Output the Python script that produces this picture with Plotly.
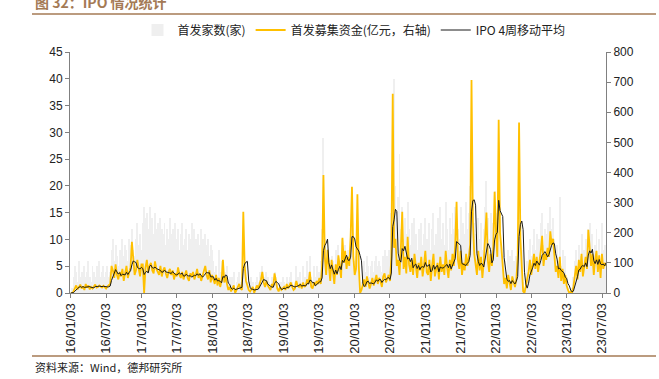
import pandas as pd
import plotly.graph_objects as go

START_WEEK = "2016-01-03"

# 首发募集资金(亿元) – weekly values, by period
funds_16h1 = [0, 0, 5, 18, 25, 12, 20, 28, 15, 22, 10, 30, 18, 25, 12, 20, 15, 22, 28, 18, 20, 25, 22, 18, 24, 20, 15, 22, 25, 30]
funds_16h2 = [90, 75, 50, 95, 60, 45, 70, 55, 80, 40, 65, 90, 50, 70, 85, 170, 100, 60, 75, 110, 80, 55, 95]
funds_17 = [95, 0, 85, 110, 70, 90, 100, 75, 65, 105, 80, 70, 60, 90, 55, 75, 85, 65, 50, 70, 80, 60, 75, 45, 65, 55,
            85, 60, 50, 70, 45, 60, 75, 50, 40, 65, 55, 70, 45, 60, 80, 50, 65, 40, 55, 70, 90, 60, 45, 75, 35, 60]
funds_18h1 = [45, 30, 60, 25, 50, 20, 40, 110, 35, 55, 30, 10, 20, 5, 15, 25, 0, 10, 20, 30, 15, 10, 270, 90, 40, 20]
funds_18h2 = [10, 5, 15, 20, 0, 10, 25, 15, 30, 45, 70, 35, 20, 40, 25, 15, 10, 30, 20, 65, 40, 15, 5, 20, 10, 15]
funds_19h1 = [20, 10, 30, 15, 25, 35, 20, 10, 15, 40, 25, 20, 30, 15, 35, 20, 25, 45, 30, 70, 20, 15, 35, 25, 40, 30]
funds_19h2 = [50, 30, 90, 392, 120, 60, 143, 80, 40, 110, 70, 30, 95, 60, 125, 75, 50, 183, 100, 140, 80, 120, 90, 185]
funds_20h1 = [353, 120, 60, 80, 328, 90, 0, 10, 30, 45, 20, 55, 35, 15, 30, 50, 25, 40, 60, 30, 50, 40, 20, 55, 65,
              35, 45, 60, 40]
funds_20h2 = [120, 661, 150, 180, 90, 110, 60, 150, 270, 80, 120, 65, 187, 95, 70, 110, 60, 130, 85, 50, 100, 75, 120,
              55, 90, 140, 70]
funds_21 = [60, 110, 40, 90, 130, 55, 80, 100, 45, 120, 70, 95, 60, 140, 85, 50, 110, 75, 130, 90, 160,
            303, 110, 80, 140, 60, 100, 75, 130, 90, 120, 160,
            707, 240, 130, 90, 60, 140, 75, 120, 50, 100, 180, 267, 110, 70, 130, 90, 150, 336]
funds_22h1 = [200, 120, 575, 200, 150, 90, 30, 50, 15, 60, 40, 10, 55, 35, 20, 45, 120, 566, 180, 90, 5, 0, 20, 40]
funds_22h2 = [70, 110, 60, 95, 130, 80, 120, 70, 100, 140, 190, 90, 130, 110, 150, 120, 205, 160, 180, 110, 70,
              90, 50, 120, 40, 80, 30, 60, 25, 10, 0, 5, 0, 20]
funds_23 = [60, 90, 45, 110, 70, 130, 55, 95, 120, 80, 210, 150, 90, 130, 60, 110, 140, 70, 125, 50, 130, 80, 100, 90]

# 首发家数(家) – weekly values, by period
count_16h1 = [0, 1, 3, 5, 4, 2, 6, 3, 4, 2, 5, 3, 4, 6, 3, 2, 5, 4, 3, 5, 4, 6, 3, 4, 5, 3, 4, 5, 3, 4]
count_16h2 = [8, 10, 6, 9, 7, 5, 8, 6, 10, 7, 9, 8, 6, 10, 9, 12, 8, 7, 10, 13, 9, 11, 8]
count_17 = [13, 16, 14, 15, 12, 16, 13, 14, 11, 15, 12, 13, 10, 14, 12, 11, 13, 9, 12, 10, 14, 11, 12, 9, 13, 10,
            12, 8, 11, 13, 9, 10, 12, 8, 11, 10, 13, 9, 12, 10, 8, 11, 9, 12, 10, 8, 11, 9, 10, 7, 9, 8]
count_18h1 = [6, 4, 5, 3, 8, 4, 6, 5, 3, 4, 5, 2, 3, 2, 3, 4, 1, 2, 3, 4, 2, 3, 5, 4, 3, 2]
count_18h2 = [2, 1, 3, 2, 1, 2, 3, 2, 4, 3, 5, 3, 2, 4, 3, 2, 1, 3, 2, 4, 3, 2, 1, 2, 2, 3]
count_19h1 = [2, 1, 3, 2, 3, 4, 2, 1, 2, 5, 3, 2, 4, 2, 5, 3, 3, 6, 4, 7, 3, 2, 5, 3, 5, 4]
count_19h2 = [4, 6, 12, 29, 10, 6, 8, 5, 4, 7, 6, 3, 8, 5, 9, 6, 5, 10, 7, 9, 6, 8, 7, 10]
count_20h1 = [12, 8, 6, 7, 11, 7, 1, 2, 5, 6, 4, 7, 5, 3, 5, 6, 4, 6, 7, 5, 6, 5, 4, 7, 8, 6, 7, 8, 6]
count_20h2 = [15, 30, 40, 20, 14, 18, 26, 12, 16, 10, 14, 11, 17, 12, 9, 13, 10, 14, 11, 8, 12, 10, 13, 9, 11, 14, 10]
count_21 = [10, 13, 8, 12, 15, 9, 11, 14, 8, 16, 10, 13, 9, 17, 12, 8, 14, 11, 15, 12, 16,
            14, 12, 10, 16, 9, 13, 11, 17, 12, 15, 20,
            18, 15, 13, 11, 9, 14, 10, 13, 8, 12, 16, 21, 14, 10, 15, 11, 13, 19]
count_22h1 = [15, 12, 14, 10, 9, 7, 5, 6, 4, 8, 7, 3, 8, 6, 5, 7, 12, 16, 10, 8, 2, 1, 4, 6]
count_22h2 = [8, 10, 7, 9, 12, 8, 11, 7, 10, 13, 15, 9, 12, 11, 13, 10, 16, 12, 14, 10, 8,
              9, 6, 18, 5, 8, 4, 7, 3, 1, 0, 1, 0, 3]
count_23 = [6, 8, 5, 9, 7, 11, 6, 8, 10, 7, 12, 13, 8, 11, 6, 9, 12, 7, 10, 5, 13, 8, 9, 8]

funds = (funds_16h1 + funds_16h2 + funds_17 + funds_18h1 + funds_18h2 + funds_19h1 + funds_19h2 +
         funds_20h1 + funds_20h2 + funds_21 + funds_22h1 + funds_22h2 + funds_23)
counts = (count_16h1 + count_16h2 + count_17 + count_18h1 + count_18h2 + count_19h1 + count_19h2 +
          count_20h1 + count_20h2 + count_21 + count_22h1 + count_22h2 + count_23)
assert len(funds) == len(counts)

dates = pd.date_range(START_WEEK, periods=len(funds), freq="7D")
ma4 = pd.Series(funds).rolling(4, min_periods=1).mean()

tick_dates = ["2016-01-03", "2016-07-03", "2017-01-03", "2017-07-03", "2018-01-03", "2018-07-03",
              "2019-01-03", "2019-07-03", "2020-01-03", "2020-07-03", "2021-01-03", "2021-07-03",
              "2022-01-03", "2022-07-03", "2023-01-03", "2023-07-03"]

LAT = "Liberation Sans, Arial, Noto Sans CJK SC, sans-serif"
CJK = "Noto Sans CJK SC, Liberation Sans, sans-serif"
BROWN = "#A47A55"
AXIS = "#808080"

fig = go.Figure()
fig.add_trace(go.Bar(x=dates, y=counts, name="首发家数(家)", marker_color="#EFEFEF",
                     marker_line_width=0, width=5 * 86400000))
fig.add_trace(go.Scatter(x=dates, y=funds, name="首发募集资金(亿元，右轴)", mode="lines",
                         line=dict(color="#FFC000", width=1.8), yaxis="y2"))
fig.add_trace(go.Scatter(x=dates, y=ma4, name="IPO 4周移动平均", mode="lines",
                         line=dict(color="#1A1A1A", width=1), yaxis="y2"))

L, R, T, B = 70, 53, 52, 86
W, H = 659, 379
PW, PH = W - L - R, H - T - B


def px(xp):
    return (xp - L) / PW


def py(yp):
    return (H - B - yp) / PH


fig.update_layout(
    width=W, height=H,
    margin=dict(l=L, r=R, t=T, b=B),
    paper_bgcolor="white", plot_bgcolor="white",
    bargap=0,
    showlegend=True,
    legend=dict(orientation="h", x=px(354), y=py(30), xanchor="center", yanchor="middle",
                font=dict(family=CJK, size=12, color="#222"), bgcolor="rgba(0,0,0,0)",
                itemwidth=30, tracegroupgap=0),
    xaxis=dict(type="date", range=["2015-12-30", "2023-07-23"], tickvals=tick_dates,
               tickformat="%y/%m/%d", tickangle=-90, showgrid=False, zeroline=False,
               showline=True, linecolor=AXIS, linewidth=1, ticks="outside", ticklen=4,
               tickcolor=AXIS, tickfont=dict(family=LAT, size=13, color="#222")),
    yaxis=dict(range=[0, 45], dtick=5, showgrid=False, zeroline=False, showline=True,
               linecolor=AXIS, linewidth=1, ticks="outside", ticklen=4, tickcolor=AXIS,
               tickfont=dict(family=LAT, size=12, color="#222")),
    yaxis2=dict(range=[0, 800], dtick=100, overlaying="y", side="right", showgrid=False,
                zeroline=False, showline=True, linecolor=AXIS, linewidth=1, ticks="outside",
                ticklen=4, tickcolor=AXIS, tickfont=dict(family=LAT, size=12, color="#222")),
    shapes=[
        dict(type="line", xref="paper", yref="paper", x0=px(32), x1=px(656), y0=py(14), y1=py(14),
             line=dict(color=BROWN, width=1.5)),
        dict(type="line", xref="paper", yref="paper", x0=px(32), x1=px(656), y0=py(356), y1=py(356),
             line=dict(color=BROWN, width=1.5)),
    ],
    annotations=[
        dict(text="<b>图 32：IPO 情况统计</b>", xref="paper", yref="paper", x=px(33), y=py(2),
             xanchor="left", yanchor="middle", showarrow=False,
             font=dict(family=CJK, size=14, color=BROWN)),
        dict(text="资料来源：Wind，德邦研究所", xref="paper", yref="paper", x=px(33), y=py(367),
             xanchor="left", yanchor="middle", showarrow=False,
             font=dict(family=CJK, size=11, color="#222")),
    ],
)

fig.write_html("out.html", config={"displayModeBar": False},
               post_script="document.body.style.margin='0';document.body.style.overflow='hidden';")
